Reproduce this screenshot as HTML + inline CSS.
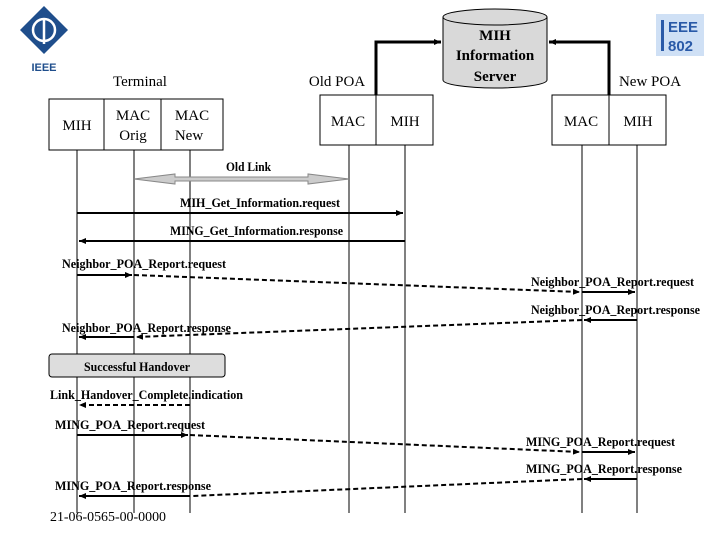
<!DOCTYPE html>
<html><head><meta charset="utf-8"><style>
body{margin:0;background:#fff}
svg{display:block}
text{font-family:"Liberation Serif",serif}
.l{font-size:13px;font-weight:bold}
</style></head><body>
<svg width="720" height="540" viewBox="0 0 720 540" xmlns="http://www.w3.org/2000/svg">
<defs>
<marker id="a" markerWidth="8" markerHeight="8" refX="7" refY="4" orient="auto" markerUnits="userSpaceOnUse"><path d="M0,1 L7,4 L0,7 Z" fill="#000"/></marker>
</defs>
<g>
<path d="M44,6 L68,30 L44,54 L20,30 Z" fill="#1f4e8c"/>
<circle cx="44" cy="30" r="11" fill="none" stroke="#fff" stroke-width="2.5"/>
<line x1="44" y1="18" x2="44" y2="44" stroke="#fff" stroke-width="2.5"/>
<text x="44" y="71" text-anchor="middle" font-weight="bold" font-size="11" fill="#1f4e8c" style="font-family:'Liberation Sans',sans-serif">IEEE</text>
</g>
<rect x="656" y="14" width="48" height="42" fill="#cfe0f5"/>
<rect x="661" y="20" width="3" height="31" fill="#2a5aa8"/>
<text x="668" y="32" font-size="15" font-weight="bold" fill="#2a5aa8" style="font-family:'Liberation Sans',sans-serif">EEE</text>
<text x="668" y="51" font-size="15" font-weight="bold" fill="#2a5aa8" style="font-family:'Liberation Sans',sans-serif">802</text>
<path d="M443,17 L443,80 A52,8 0 0 0 547,80 L547,17" fill="#d9d9d9" stroke="#000"/>
<ellipse cx="495" cy="17" rx="52" ry="8" fill="#d9d9d9" stroke="#000"/>
<text x="495" y="40" text-anchor="middle" font-size="15" font-weight="bold">MIH</text>
<text x="495" y="60" text-anchor="middle" font-size="15" font-weight="bold">Information</text>
<text x="495" y="81" text-anchor="middle" font-size="15" font-weight="bold">Server</text>
<polyline points="376,95 376,42 441,42" fill="none" stroke="#000" stroke-width="3" marker-end="url(#a)"/>
<polyline points="609,95 609,42 549,42" fill="none" stroke="#000" stroke-width="3" marker-end="url(#a)"/>
<text x="140" y="86" text-anchor="middle" font-size="15">Terminal</text>
<text x="337" y="86" text-anchor="middle" font-size="15">Old POA</text>
<text x="650" y="86" text-anchor="middle" font-size="15">New POA</text>
<g fill="#fff" stroke="#000">
<rect x="49" y="99" width="55" height="51"/><rect x="104" y="99" width="57" height="51"/><rect x="161" y="99" width="62" height="51"/>
<rect x="320" y="95" width="56" height="50"/><rect x="376" y="95" width="57" height="50"/>
<rect x="552" y="95" width="57" height="50"/><rect x="609" y="95" width="57" height="50"/>
</g>
<g font-size="15" text-anchor="middle">
<text x="77" y="130">MIH</text>
<text x="133" y="120">MAC</text><text x="133" y="140">Orig</text>
<text x="192" y="120">MAC</text><text x="189" y="140">New</text>
<text x="348" y="126">MAC</text><text x="405" y="126">MIH</text>
<text x="581" y="126">MAC</text><text x="638" y="126">MIH</text>
</g>
<g stroke="#000" stroke-width="1">
<line x1="77" y1="150" x2="77" y2="513"/><line x1="134" y1="150" x2="134" y2="513"/><line x1="190" y1="150" x2="190" y2="513"/>
<line x1="349" y1="145" x2="349" y2="513"/><line x1="405" y1="145" x2="405" y2="513"/>
<line x1="582" y1="145" x2="582" y2="513"/><line x1="637" y1="145" x2="637" y2="513"/>
</g>
<path d="M134,179 L175,174 L175,177 L308,177 L308,174 L349,179 L308,184 L308,181 L175,181 L175,184 Z" fill="#ccc" stroke="#888"/>
<text class="l" x="226" y="171" textLength="45" lengthAdjust="spacingAndGlyphs">Old Link</text>
<g stroke="#000" stroke-width="2" fill="none">
<line x1="77" y1="213" x2="403" y2="213" marker-end="url(#a)"/>
<line x1="405" y1="241" x2="79" y2="241" marker-end="url(#a)"/>
<line x1="77" y1="275" x2="132" y2="275" marker-end="url(#a)"/>
<line x1="134" y1="275" x2="580" y2="292" stroke-dasharray="5,3" marker-end="url(#a)"/>
<line x1="582" y1="292" x2="635" y2="292" marker-end="url(#a)"/>
<line x1="637" y1="320" x2="584" y2="320" marker-end="url(#a)"/>
<line x1="582" y1="320" x2="136" y2="337" stroke-dasharray="5,3" marker-end="url(#a)"/>
<line x1="134" y1="337" x2="79" y2="337" marker-end="url(#a)"/>
<line x1="190" y1="405" x2="79" y2="405" stroke-dasharray="5,3" marker-end="url(#a)"/>
<line x1="77" y1="435" x2="188" y2="435" marker-end="url(#a)"/>
<line x1="190" y1="435" x2="580" y2="452" stroke-dasharray="5,3" marker-end="url(#a)"/>
<line x1="582" y1="452" x2="635" y2="452" marker-end="url(#a)"/>
<line x1="637" y1="479" x2="584" y2="479" marker-end="url(#a)"/>
<line x1="582" y1="479" x2="192" y2="496" stroke-dasharray="5,3"/>
<line x1="190" y1="496" x2="79" y2="496" marker-end="url(#a)"/>
</g>
<rect x="49" y="354" width="176" height="23" rx="3" fill="#ddd" stroke="#000"/>
<g>
<text class="l" x="180" y="207" textLength="160" lengthAdjust="spacingAndGlyphs">MIH_Get_Information.request</text>
<text class="l" x="170" y="235" textLength="173" lengthAdjust="spacingAndGlyphs">MING_Get_Information.response</text>
<text class="l" x="62" y="268" textLength="164" lengthAdjust="spacingAndGlyphs">Neighbor_POA_Report.request</text>
<text class="l" x="531" y="286" textLength="163" lengthAdjust="spacingAndGlyphs">Neighbor_POA_Report.request</text>
<text class="l" x="531" y="314" textLength="169" lengthAdjust="spacingAndGlyphs">Neighbor_POA_Report.response</text>
<text class="l" x="62" y="332" textLength="169" lengthAdjust="spacingAndGlyphs">Neighbor_POA_Report.response</text>
<text class="l" x="84" y="371" textLength="106" lengthAdjust="spacingAndGlyphs">Successful Handover</text>
<text class="l" x="50" y="399" textLength="193" lengthAdjust="spacingAndGlyphs">Link_Handover_Complete.indication</text>
<text class="l" x="55" y="429" textLength="150" lengthAdjust="spacingAndGlyphs">MING_POA_Report.request</text>
<text class="l" x="526" y="446" textLength="149" lengthAdjust="spacingAndGlyphs">MING_POA_Report.request</text>
<text class="l" x="526" y="473" textLength="156" lengthAdjust="spacingAndGlyphs">MING_POA_Report.response</text>
<text class="l" x="55" y="490" textLength="156" lengthAdjust="spacingAndGlyphs">MING_POA_Report.response</text>
</g>
<text x="50" y="521" font-size="14" textLength="116" lengthAdjust="spacingAndGlyphs">21-06-0565-00-0000</text>
</svg>
</body></html>
